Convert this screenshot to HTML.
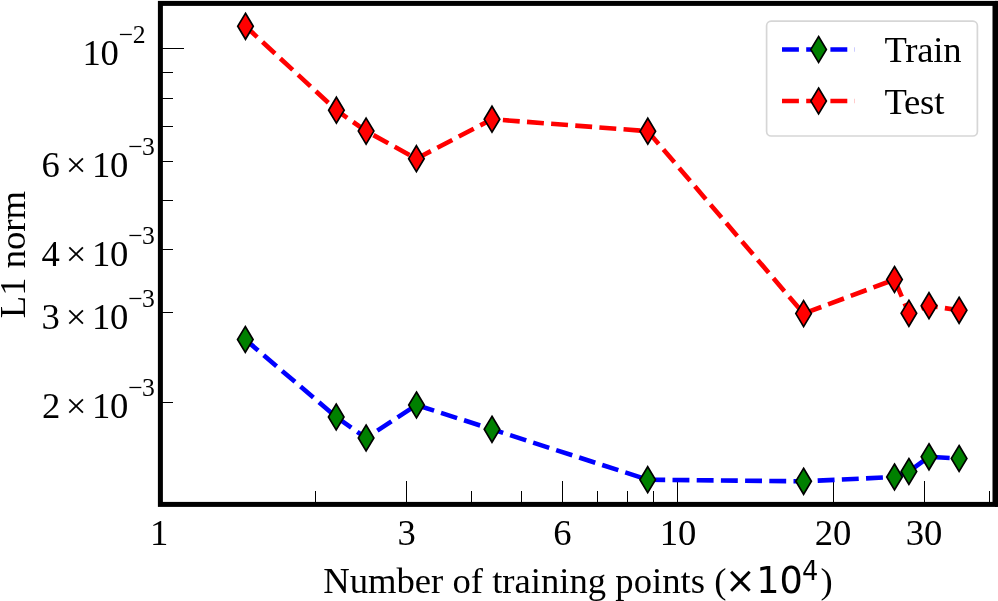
<!DOCTYPE html>
<html><head><meta charset="utf-8"><title>L1 norm vs training points</title>
<style>html,body{margin:0;padding:0;background:#fff;overflow:hidden}svg{display:block}text{font-family:"Liberation Serif","Times New Roman",serif;fill:#000}.m{font-family:"DejaVu Sans","Liberation Sans",sans-serif}</style></head><body>
<svg width="998" height="601" viewBox="0 0 998 601">
<rect x="0" y="0" width="998" height="601" fill="#fff"/>
<g fill="#000" shape-rendering="crispEdges"><rect x="160" y="481" width="1" height="23"/><rect x="406" y="481" width="1" height="23"/><rect x="562" y="481" width="1" height="23"/><rect x="677" y="481" width="1" height="23"/><rect x="833" y="481" width="1" height="23"/><rect x="924" y="481" width="1" height="23"/><rect x="315" y="491" width="1" height="13"/><rect x="471" y="491" width="1" height="13"/><rect x="521" y="491" width="1" height="13"/><rect x="597" y="491" width="1" height="13"/><rect x="627" y="491" width="1" height="13"/><rect x="653" y="491" width="1" height="13"/><rect x="989" y="491" width="1" height="13"/><rect x="160" y="48" width="24" height="1"/><rect x="160" y="72" width="13" height="1"/><rect x="160" y="98" width="13" height="1"/><rect x="160" y="126" width="13" height="1"/><rect x="160" y="161" width="13" height="1"/><rect x="160" y="200" width="13" height="1"/><rect x="160" y="249" width="13" height="1"/><rect x="160" y="312" width="13" height="1"/><rect x="160" y="402" width="13" height="1"/></g>
<polyline points="245.30,339.50 336.20,417.00 366.10,438.00 416.50,405.00 492.00,429.30 647.70,479.70 803.60,481.30 894.50,477.00 908.90,471.50 929.00,456.80 959.10,458.50" fill="none" stroke="#0000ff" stroke-width="4.6" stroke-dasharray="16.9 7.3" stroke-dashoffset="0" stroke-linejoin="round"/><path d="M245.30 326.50L253.10 339.50L245.30 352.50L237.50 339.50Z" fill="#008000" stroke="#000" stroke-width="1.67" stroke-linejoin="miter" stroke-miterlimit="10"/><path d="M336.20 404.00L344.00 417.00L336.20 430.00L328.40 417.00Z" fill="#008000" stroke="#000" stroke-width="1.67" stroke-linejoin="miter" stroke-miterlimit="10"/><path d="M366.10 425.00L373.90 438.00L366.10 451.00L358.30 438.00Z" fill="#008000" stroke="#000" stroke-width="1.67" stroke-linejoin="miter" stroke-miterlimit="10"/><path d="M416.50 392.00L424.30 405.00L416.50 418.00L408.70 405.00Z" fill="#008000" stroke="#000" stroke-width="1.67" stroke-linejoin="miter" stroke-miterlimit="10"/><path d="M492.00 416.30L499.80 429.30L492.00 442.30L484.20 429.30Z" fill="#008000" stroke="#000" stroke-width="1.67" stroke-linejoin="miter" stroke-miterlimit="10"/><path d="M647.70 466.70L655.50 479.70L647.70 492.70L639.90 479.70Z" fill="#008000" stroke="#000" stroke-width="1.67" stroke-linejoin="miter" stroke-miterlimit="10"/><path d="M803.60 468.30L811.40 481.30L803.60 494.30L795.80 481.30Z" fill="#008000" stroke="#000" stroke-width="1.67" stroke-linejoin="miter" stroke-miterlimit="10"/><path d="M894.50 464.00L902.30 477.00L894.50 490.00L886.70 477.00Z" fill="#008000" stroke="#000" stroke-width="1.67" stroke-linejoin="miter" stroke-miterlimit="10"/><path d="M908.90 458.50L916.70 471.50L908.90 484.50L901.10 471.50Z" fill="#008000" stroke="#000" stroke-width="1.67" stroke-linejoin="miter" stroke-miterlimit="10"/><path d="M929.00 443.80L936.80 456.80L929.00 469.80L921.20 456.80Z" fill="#008000" stroke="#000" stroke-width="1.67" stroke-linejoin="miter" stroke-miterlimit="10"/><path d="M959.10 445.50L966.90 458.50L959.10 471.50L951.30 458.50Z" fill="#008000" stroke="#000" stroke-width="1.67" stroke-linejoin="miter" stroke-miterlimit="10"/>
<polyline points="245.50,26.30 336.40,110.20 366.10,131.10 416.40,158.70 492.00,119.20 647.80,131.20 803.60,313.60 894.50,279.50 908.90,313.30 929.00,305.70 959.10,310.30" fill="none" stroke="#ff0000" stroke-width="4.6" stroke-dasharray="16.9 7.3" stroke-dashoffset="1" stroke-linejoin="round"/><path d="M245.50 13.30L253.30 26.30L245.50 39.30L237.70 26.30Z" fill="#ff0000" stroke="#000" stroke-width="1.67" stroke-linejoin="miter" stroke-miterlimit="10"/><path d="M336.40 97.20L344.20 110.20L336.40 123.20L328.60 110.20Z" fill="#ff0000" stroke="#000" stroke-width="1.67" stroke-linejoin="miter" stroke-miterlimit="10"/><path d="M366.10 118.10L373.90 131.10L366.10 144.10L358.30 131.10Z" fill="#ff0000" stroke="#000" stroke-width="1.67" stroke-linejoin="miter" stroke-miterlimit="10"/><path d="M416.40 145.70L424.20 158.70L416.40 171.70L408.60 158.70Z" fill="#ff0000" stroke="#000" stroke-width="1.67" stroke-linejoin="miter" stroke-miterlimit="10"/><path d="M492.00 106.20L499.80 119.20L492.00 132.20L484.20 119.20Z" fill="#ff0000" stroke="#000" stroke-width="1.67" stroke-linejoin="miter" stroke-miterlimit="10"/><path d="M647.80 118.20L655.60 131.20L647.80 144.20L640.00 131.20Z" fill="#ff0000" stroke="#000" stroke-width="1.67" stroke-linejoin="miter" stroke-miterlimit="10"/><path d="M803.60 300.60L811.40 313.60L803.60 326.60L795.80 313.60Z" fill="#ff0000" stroke="#000" stroke-width="1.67" stroke-linejoin="miter" stroke-miterlimit="10"/><path d="M894.50 266.50L902.30 279.50L894.50 292.50L886.70 279.50Z" fill="#ff0000" stroke="#000" stroke-width="1.67" stroke-linejoin="miter" stroke-miterlimit="10"/><path d="M908.90 300.30L916.70 313.30L908.90 326.30L901.10 313.30Z" fill="#ff0000" stroke="#000" stroke-width="1.67" stroke-linejoin="miter" stroke-miterlimit="10"/><path d="M929.00 292.70L936.80 305.70L929.00 318.70L921.20 305.70Z" fill="#ff0000" stroke="#000" stroke-width="1.67" stroke-linejoin="miter" stroke-miterlimit="10"/><path d="M959.10 297.30L966.90 310.30L959.10 323.30L951.30 310.30Z" fill="#ff0000" stroke="#000" stroke-width="1.67" stroke-linejoin="miter" stroke-miterlimit="10"/>
<rect x="160.4" y="3.4" width="834.60" height="501.00" fill="none" stroke="#000" stroke-width="5"/>
<rect x="995" y="0.90" width="3" height="506.00" fill="#000"/>
<rect x="766.6" y="21.2" width="210.8" height="114.8" rx="4.5" ry="4.5" fill="#fff" fill-opacity="0.8" stroke="#ccc" stroke-opacity="0.8" stroke-width="1.67"/>
<line x1="782" y1="49.5" x2="854.8" y2="49.5" stroke="#0000ff" stroke-width="4.6" stroke-dasharray="16.9 7.3"/>
<path d="M818.60 36.50L826.40 49.50L818.60 62.50L810.80 49.50Z" fill="#008000" stroke="#000" stroke-width="1.67" stroke-linejoin="miter" stroke-miterlimit="10"/>
<line x1="782" y1="101.0" x2="854.8" y2="101.0" stroke="#ff0000" stroke-width="4.6" stroke-dasharray="16.9 7.3"/>
<path d="M818.60 88.00L826.40 101.00L818.60 114.00L810.80 101.00Z" fill="#ff0000" stroke="#000" stroke-width="1.67" stroke-linejoin="miter" stroke-miterlimit="10"/>
<text x="884.4" y="61.8" font-size="36.67" letter-spacing="-0.2">Train</text>
<text x="884.4" y="114.0" font-size="36.67" letter-spacing="-0.2">Test</text>
<text x="159.10" y="544.5" font-size="36.67" text-anchor="middle">1</text>
<text x="406.71" y="544.5" font-size="36.67" text-anchor="middle">3</text>
<text x="562.44" y="544.5" font-size="36.67" text-anchor="middle">6</text>
<text x="678.10" y="544.5" font-size="36.67" text-anchor="middle">10</text>
<text x="833.12" y="544.5" font-size="36.67" text-anchor="middle">20</text>
<text x="924.01" y="544.5" font-size="36.67" text-anchor="middle">30</text>
<text y="65.10" font-size="36.67" x="82.62 100.43">10<tspan font-size="25.67" y="42.90" x="118.85 132.83">−2</tspan></text>
<text y="177.13" font-size="36.67" x="41.44 65.74 92.12 109.93">6×10<tspan font-size="25.67" y="154.93" x="128.35 142.07">−3</tspan></text>
<text y="266.06" font-size="36.67" x="41.61 65.74 92.12 109.93">4×10<tspan font-size="25.67" y="243.86" x="128.35 142.07">−3</tspan></text>
<text y="329.15" font-size="36.67" x="41.52 65.74 92.12 109.93">3×10<tspan font-size="25.67" y="306.95" x="128.35 142.07">−3</tspan></text>
<text y="418.08" font-size="36.67" x="41.89 65.74 92.12 109.93">2×10<tspan font-size="25.67" y="395.88" x="128.35 142.07">−3</tspan></text>
<text x="323.2" y="592.9" font-size="36.67">Number of training points (<tspan class="m" x="725.0 756.3 779.6">×10</tspan><tspan class="m" font-size="25.67" dy="-13.3" x="802.0">4</tspan><tspan dy="13.3" x="820.6">)</tspan></text>
<text transform="translate(25.1,254.6) rotate(-90)" font-size="36.67" text-anchor="middle">L1 norm</text>
</svg></body></html>
